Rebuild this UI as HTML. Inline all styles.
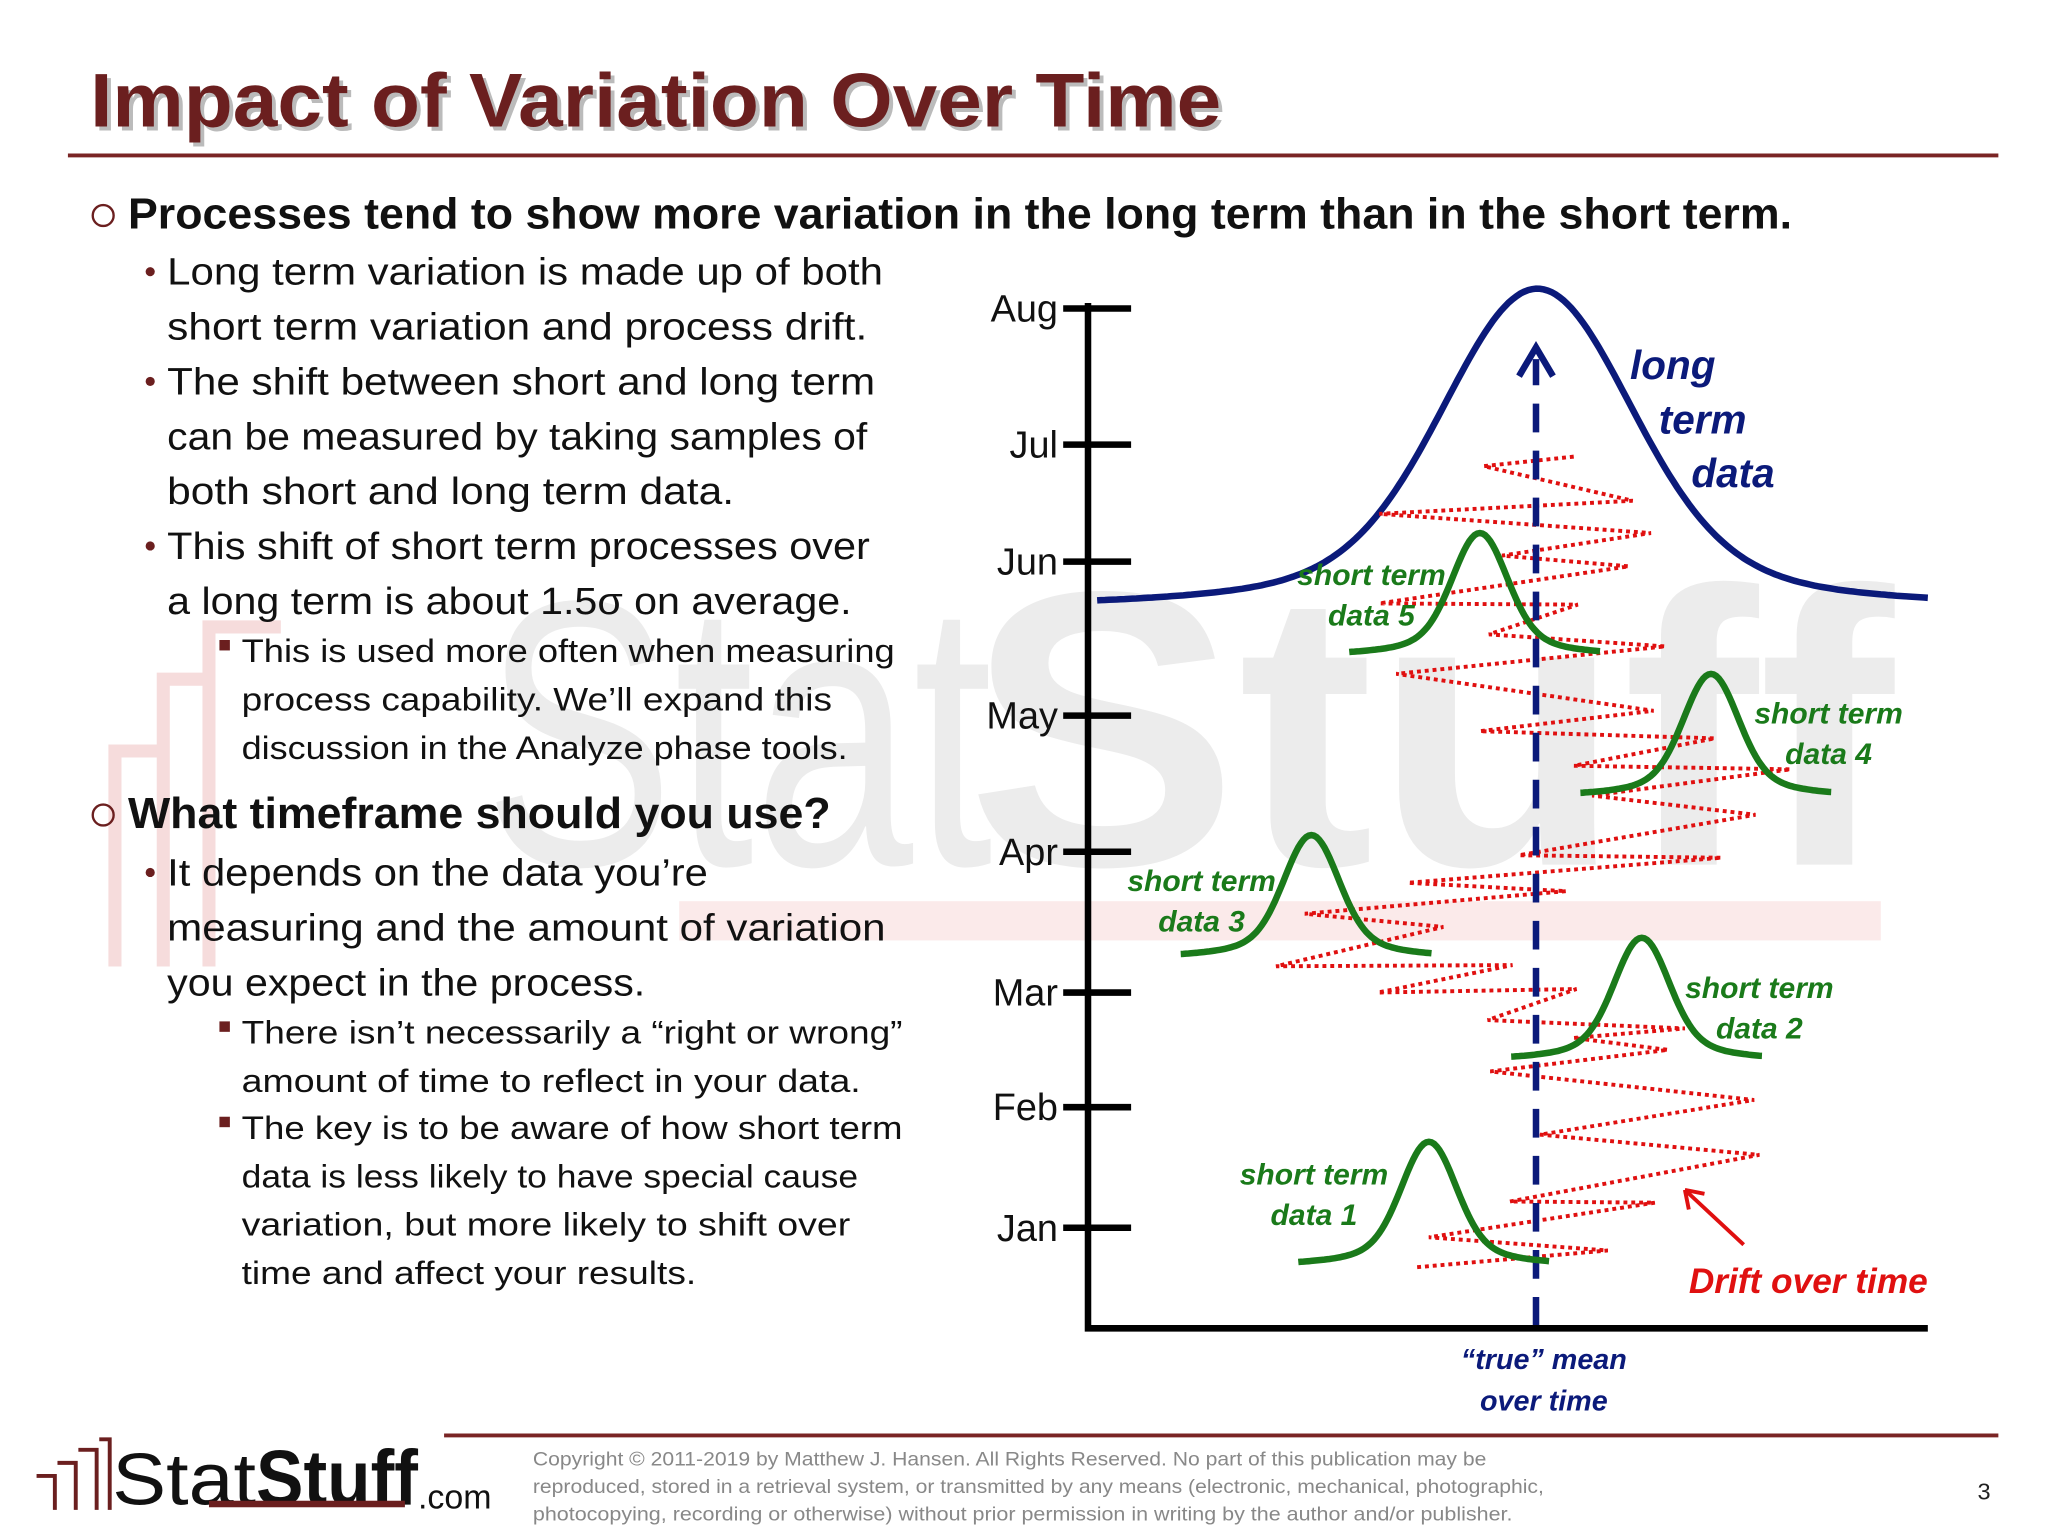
<!DOCTYPE html>
<html><head><meta charset="utf-8"><style>
html,body{margin:0;padding:0;background:#fff;}
svg{display:block;}
text{font-family:"Liberation Sans",sans-serif;}
</style></head><body>
<svg id="s" width="2048" height="1536" viewBox="0 0 1568 1176" xmlns="http://www.w3.org/2000/svg">
<g>
<rect x="520" y="690" width="920" height="30" fill="#fbeaea"/>
<path d="M88 740 V575 H130 M125 740 V520 H160 M160 740 V480 H215" stroke="#f6dcdc" stroke-width="10" fill="none"/>
<text x="370" y="662" font-size="290" fill="#ececec" textLength="390" lengthAdjust="spacingAndGlyphs">Stat</text>
<text x="740" y="662" font-size="300" font-weight="bold" fill="#ececec" textLength="710" lengthAdjust="spacingAndGlyphs">Stuff</text>
</g>
<text x="72" y="100" font-size="58" font-weight="bold" fill="#bbb" textLength="866" lengthAdjust="spacingAndGlyphs">Impact of Variation Over Time</text>
<text x="69" y="97" font-size="58" font-weight="bold" fill="#6b1f1f" textLength="866" lengthAdjust="spacingAndGlyphs">Impact of Variation Over Time</text>
<line x1="52" y1="119" x2="1530" y2="119" stroke="#7a2525" stroke-width="3"/>
<g fill="#111">
<circle cx="79" cy="165" r="8" fill="none" stroke="#6b1f1f" stroke-width="1.8"/>
<text x="98" y="175" font-size="33" font-weight="bold" textLength="1274" lengthAdjust="spacingAndGlyphs">Processes tend to show more variation in the long term than in the short term.</text>
<g font-size="29">
<circle cx="115" cy="208" r="3.5" fill="#6b1f1f"/><text x="128" y="218" textLength="548" lengthAdjust="spacingAndGlyphs">Long term variation is made up of both</text>
<text x="128" y="260" textLength="536" lengthAdjust="spacingAndGlyphs">short term variation and process drift.</text>
<circle cx="115" cy="292" r="3.5" fill="#6b1f1f"/><text x="128" y="302" textLength="542" lengthAdjust="spacingAndGlyphs">The shift between short and long term</text>
<text x="128" y="344" textLength="536" lengthAdjust="spacingAndGlyphs">can be measured by taking samples of</text>
<text x="128" y="386" textLength="434" lengthAdjust="spacingAndGlyphs">both short and long term data.</text>
<circle cx="115" cy="418" r="3.5" fill="#6b1f1f"/><text x="128" y="428" textLength="538" lengthAdjust="spacingAndGlyphs">This shift of short term processes over</text>
<text x="128" y="470" textLength="524" lengthAdjust="spacingAndGlyphs">a long term is about 1.5σ on average.</text>
</g>
<g font-size="25">
<rect x="168" y="490" width="8" height="8" fill="#6b1f1f"/><text x="185" y="507" textLength="500" lengthAdjust="spacingAndGlyphs">This is used more often when measuring</text>
<text x="185" y="544" textLength="452" lengthAdjust="spacingAndGlyphs">process capability.  We’ll expand this</text>
<text x="185" y="581" textLength="464" lengthAdjust="spacingAndGlyphs">discussion in the Analyze phase tools.</text>
</g>
<circle cx="79" cy="624" r="8" fill="none" stroke="#6b1f1f" stroke-width="1.8"/>
<text x="98" y="634" font-size="33" font-weight="bold" textLength="538" lengthAdjust="spacingAndGlyphs">What timeframe should you use?</text>
<g font-size="29">
<circle cx="115" cy="668" r="3.5" fill="#6b1f1f"/><text x="128" y="678" textLength="414" lengthAdjust="spacingAndGlyphs">It depends on the data you’re</text>
<text x="128" y="720" textLength="550" lengthAdjust="spacingAndGlyphs">measuring and the amount of variation</text>
<text x="128" y="762" textLength="366" lengthAdjust="spacingAndGlyphs">you expect in the process.</text>
</g>
<g font-size="25">
<rect x="168" y="782" width="8" height="8" fill="#6b1f1f"/><text x="185" y="799" textLength="506" lengthAdjust="spacingAndGlyphs">There isn’t necessarily a “right or wrong”</text>
<text x="185" y="836" textLength="474" lengthAdjust="spacingAndGlyphs">amount of time to reflect in your data.</text>
<rect x="168" y="855" width="8" height="8" fill="#6b1f1f"/><text x="185" y="872" textLength="506" lengthAdjust="spacingAndGlyphs">The key is to be aware of how short term</text>
<text x="185" y="909" textLength="472" lengthAdjust="spacingAndGlyphs">data is less likely to have special cause</text>
<text x="185" y="946" textLength="466" lengthAdjust="spacingAndGlyphs">variation, but more likely to shift over</text>
<text x="185" y="983" textLength="348" lengthAdjust="spacingAndGlyphs">time and affect your results.</text>
</g>
</g>
<g id="chart"></g>
<g>
<line x1="340" y1="1099" x2="1530" y2="1099" stroke="#7a2525" stroke-width="3"/>
<g>
<path d="M28 1130 h14 v26 M44 1120 h14 v36 M60 1110 h14 v46 M76 1102 h8 v54" stroke="#6b1f1f" stroke-width="3" fill="none"/>
<text x="86" y="1152" font-size="56" fill="#111" textLength="110" lengthAdjust="spacingAndGlyphs">Stat</text>
<text x="196" y="1152" font-size="60" font-weight="bold" fill="#111" textLength="124" lengthAdjust="spacingAndGlyphs">Stuff</text>
<rect x="160" y="1149" width="150" height="5" fill="#6b1f1f"/>
<text x="320" y="1155" font-size="26" fill="#111">.com</text>
</g>
<g font-size="15" fill="#888">
<text x="408" y="1122" textLength="730" lengthAdjust="spacingAndGlyphs">Copyright © 2011-2019 by Matthew  J. Hansen.  All Rights Reserved.  No part of this publication may be</text>
<text x="408" y="1143" textLength="774" lengthAdjust="spacingAndGlyphs">reproduced, stored in a retrieval system, or transmitted by any means  (electronic, mechanical, photographic,</text>
<text x="408" y="1164" textLength="750" lengthAdjust="spacingAndGlyphs">photocopying, recording or otherwise) without prior permission in writing by the author and/or publisher.</text>
</g>
<text x="1514" y="1148" font-size="18" fill="#222">3</text>
</g>
</svg>
<script>
const months = ["Jan","Feb","Mar","Apr","May","Jun","Jul","Aug"];
const monthVals = [0, 1.01, 1.97, 3.15, 4.29, 5.58, 6.56, 7.70];
const shortCenters = [1094, 1257, 1004, 1310, 1133];
const shortBases = [-0.33, 1.39, 2.25, 3.6, 4.78];
const shortHeights = [96, 95, 95, 95, 95];
const shortLabels = ["data 1","data 2","data 3","data 4","data 5"];
const driftX = [1085,1231,1094,1267,1156,1347,1179,1343,1141,1277,1205,1290,1139,1207,1055,1158,977,1105,999,1199,1078,1318,1163,1344,1219,1371,1205,1313,1133,1266,1069,1275,1140,1208,1056,1247,1150,1264,1056,1250,1136,1205];
const driftV = [-0.33,-0.19,-0.08,0.21,0.22,0.61,0.78,1.07,1.31,1.49,1.59,1.67,1.74,2.0,1.97,2.2,2.19,2.52,2.63,2.82,2.89,3.10,3.12,3.46,3.62,3.84,3.87,4.10,4.16,4.33,4.64,4.87,4.97,5.22,5.23,5.54,5.63,5.82,5.98,6.09,6.38,6.46];
const NS="http://www.w3.org/2000/svg";
const ch=document.getElementById('chart');
const y0=940, k=91.4;
function yS(v){return y0-v*k;}
function el(t,a,p){const e=document.createElementNS(NS,t);for(const q in a)e.setAttribute(q,a[q]);(p||ch).appendChild(e);return e;}
function shape(dx,wg,wc){return 0.7*Math.exp(-0.5*(dx/wg)*(dx/wg))+0.3/(1+(dx/wc)*(dx/wc));}
let d="";for(let x=840;x<=1478;x+=3){const y=468-247*shape(x-1177,70,120);d+=(x==840?"M":"L")+x+" "+y.toFixed(1);}
let p=el('path',{d:d,fill:'none',stroke:'#0b1a7a','stroke-width':5});


let dz="";driftX.forEach((x,i)=>{dz+=(i?"L":"M")+x+" "+yS(driftV[i]).toFixed(1);});
p=el('path',{d:dz,fill:'none',stroke:'#e01010','stroke-width':3,'stroke-dasharray':'3 3'});


p=el('line',{x1:1176,y1:1015,x2:1176,y2:275,stroke:'#0b1a7a','stroke-width':5,'stroke-dasharray':'22 14'});


p=el('path',{d:'M1163 288 L1176 266 L1189 288',fill:'none',stroke:'#0b1a7a','stroke-width':5});


shortCenters.forEach((c,i)=>{
 const base=yS(shortBases[i]);let s="";
 for(let x=c-100;x<=c+92;x+=2){const y=base-shortHeights[i]*shape(x-c,20,40);s+=(x==c-100?"M":"L")+x+" "+y.toFixed(1);}
 const g=el('path',{d:s,fill:'none',stroke:'#1a7a1a','stroke-width':5});
 
 
});
p=el('path',{d:'M833 232 V1017 H1476',fill:'none',stroke:'#000','stroke-width':5});


months.forEach((m,i)=>{
 const y=yS(monthVals[i]);
 const t=el('line',{x1:814,y1:y,x2:866,y2:y,stroke:'#000','stroke-width':5});
 
 
 const l=el('text',{x:810,y:y+10,'font-size':29,'text-anchor':'end',fill:'#111'});
 l.textContent=m;
 
 
});
const gl=[[920,682],[1050,448],[1400,554],[1347,764],[1006,907]];
const lblOrder=[2,4,3,1,0];
lblOrder.forEach((idx,j)=>{
 const a=gl[j];
 const t1=el('text',{x:a[0],y:a[1],'font-size':23,'font-weight':'bold','font-style':'italic',fill:'#1a7a1a','text-anchor':'middle'});
 t1.textContent="short term";
 
 
 const t2=el('text',{x:a[0],y:a[1]+31,'font-size':23,'font-weight':'bold','font-style':'italic',fill:'#1a7a1a','text-anchor':'middle'});
 t2.textContent=shortLabels[idx];
 
 
});
[["long",1248,290],["term",1270,332],["data",1295,373]].forEach(a=>{
 const t=el('text',{x:a[1],y:a[2],'font-size':31,'font-weight':'bold','font-style':'italic',fill:'#0b1a7a'});
 t.textContent=a[0];
 
 
});
[["“true” mean",1048],["over time",1080]].forEach((a,i)=>{
 const t=el('text',{x:1182,y:a[1],'font-size':22,'font-weight':'bold','font-style':'italic',fill:'#0b1a7a','text-anchor':'middle'});
 t.textContent=a[0];
 
 
});
let t=el('text',{x:1293,y:990,'font-size':27,'font-weight':'bold','font-style':'italic',fill:'#e01010'});
t.textContent="Drift over time";


p=el('path',{d:'M1335 953 L1290 911 M1290 911 l3 15 M1290 911 l15 3',fill:'none',stroke:'#e01010','stroke-width':3});


</script>
</body></html>
